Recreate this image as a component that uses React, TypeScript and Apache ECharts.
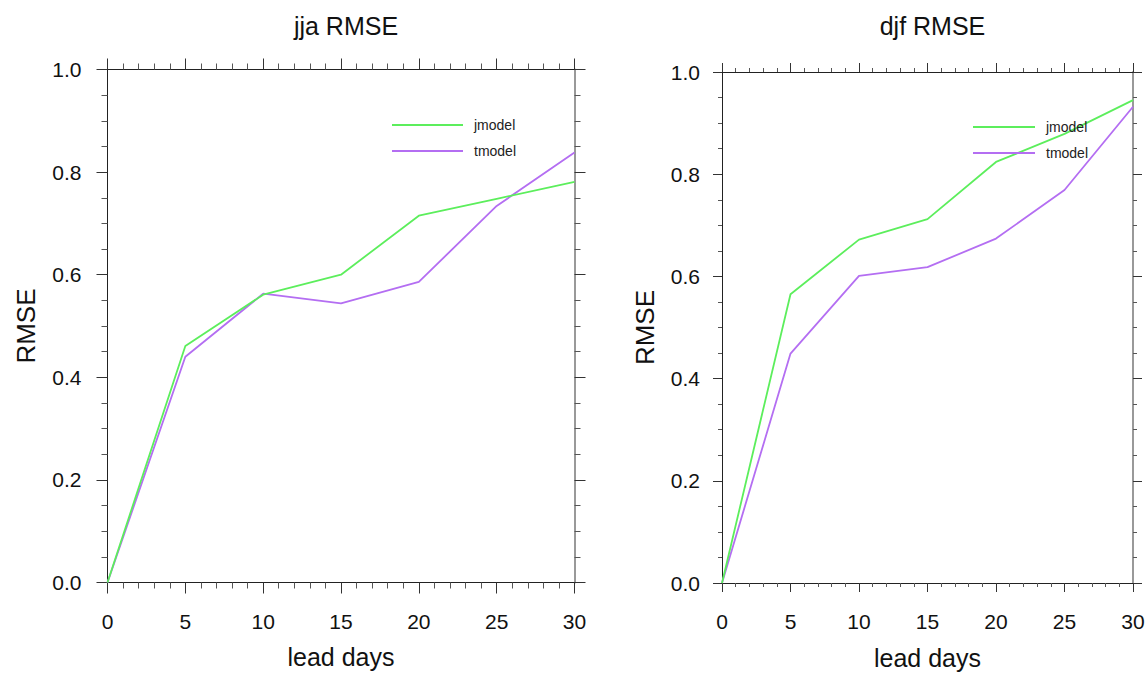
import React, { useEffect, useRef } from "react";
import * as echarts from "echarts";

const leadDays = [0, 5, 10, 15, 20, 25, 30];
const jjaJmodel = [0.0, 0.461, 0.561, 0.6, 0.715, 0.748, 0.781];
const jjaTmodel = [0.0, 0.44, 0.563, 0.544, 0.586, 0.734, 0.838];
const djfJmodel = [0.0, 0.565, 0.672, 0.712, 0.824, 0.879, 0.945];
const djfTmodel = [0.0, 0.449, 0.601, 0.618, 0.674, 0.769, 0.932];
const panelTitles = ["jja RMSE", "djf RMSE"];
const seriesNames = ["jmodel", "tmodel"];

const GREEN = "#5cee5c";
const PURPLE = "#b46ef2";
const FONT = "Liberation Sans, Arial, Helvetica, sans-serif";

export default function App() {
  const ref = useRef<HTMLDivElement>(null);
  useEffect(() => {
    if (!ref.current) return;
    const chart = echarts.init(ref.current, undefined, { renderer: "svg" });

    const grids = [
      { left: 107.5, top: 69.5, width: 467, height: 513 },
      { left: 722, top: 72, width: 411, height: 511 },
    ];
    const ylabMargin = [26, 22];
    const yNameGap = [69, 64];
    const majorLen = [11, 9];
    const minorLen = [6, 4];

    const xAxes: any[] = [];
    const yAxes: any[] = [];
    grids.forEach((_, i) => {
      const base = {
        gridIndex: i,
        type: "value",
        min: 0,
        max: 30,
        interval: 5,
        splitLine: { show: false },
        minorTick: { show: true, splitNumber: 5, length: minorLen[i], lineStyle: { color: "#555" } },
        axisTick: { show: true, inside: false, length: majorLen[i], lineStyle: { color: "#333" } },
        axisLine: { show: true, onZero: false, lineStyle: { color: "#222", width: 1 } },
      };
      xAxes.push({
        ...base,
        position: "bottom",
        name: "lead days",
        nameLocation: "middle",
        nameGap: 62,
        nameTextStyle: { fontSize: 25, color: "#111", fontFamily: FONT },
        axisLabel: { show: true, margin: 28, fontSize: 21, color: "#111", fontFamily: FONT },
      });
      xAxes.push({
        ...base,
        position: "top",
        axisLabel: { show: false },
      });
      const ybase = {
        gridIndex: i,
        type: "value",
        min: 0,
        max: 1,
        interval: 0.2,
        splitLine: { show: false },
        minorTick: { show: true, splitNumber: 4, length: minorLen[i], lineStyle: { color: "#555" } },
        axisTick: { show: true, inside: false, length: majorLen[i], lineStyle: { color: "#333" } },
      };
      yAxes.push({
        ...ybase,
        position: "left",
        name: "RMSE",
        nameLocation: "middle",
        nameRotate: 90,
        nameGap: yNameGap[i],
        nameTextStyle: { fontSize: 26, color: "#111", fontFamily: FONT },
        axisLine: { show: true, onZero: false, lineStyle: { color: "#222", width: 1 } },
        axisLabel: {
          show: true,
          margin: ylabMargin[i],
          fontSize: 21,
          color: "#111",
          fontFamily: FONT,
          formatter: (v: number) => v.toFixed(1),
        },
      });
      yAxes.push({
        ...ybase,
        position: "right",
        axisLine: { show: true, onZero: false, lineStyle: { color: "#999", width: 2 } },
        axisLabel: { show: false },
      });
    });

    const data = [
      [jjaJmodel, jjaTmodel],
      [djfJmodel, djfTmodel],
    ];
    const colors = [GREEN, PURPLE];
    const series: any[] = [];
    data.forEach((pair, i) => {
      pair.forEach((vals, k) => {
        series.push({
          type: "line",
          name: seriesNames[k],
          xAxisIndex: i * 2,
          yAxisIndex: i * 2,
          data: leadDays.map((d, j) => [d, vals[j]]),
          symbol: "none",
          showSymbol: false,
          color: colors[k],
          lineStyle: { color: colors[k], width: 1.8 },
          z: 3 - k,
        });
      });
    });

    const legendCfg = [
      { left: 387, top: 112, w: 71 },
      { left: 968, top: 114, w: 62 },
    ];

    chart.setOption({
      animation: false,
      backgroundColor: "#ffffff",
      title: panelTitles.map((t, i) => ({
        text: t,
        left: grids[i].left + grids[i].width / 2,
        textAlign: "center",
        top: 8,
        textStyle: { fontSize: 25, fontWeight: "normal", color: "#111", fontFamily: FONT },
      })),
      grid: grids,
      xAxis: xAxes,
      yAxis: yAxes,
      legend: legendCfg.map((l) => ({
        left: l.left,
        top: l.top,
        orient: "vertical",
        icon: "rect",
        itemWidth: l.w,
        itemHeight: 2,
        itemGap: 10,
        data: seriesNames,
        selectedMode: false,
        textStyle: { fontSize: 14, color: "#222", fontFamily: FONT, padding: [0, 0, 0, 6], lineHeight: 16 },
      })),
      series,
    });
    return () => chart.dispose();
  }, []);
  return <div ref={ref} style={{ width: 1148, height: 675, position: "absolute", left: 0, top: 0 }} />;
}
